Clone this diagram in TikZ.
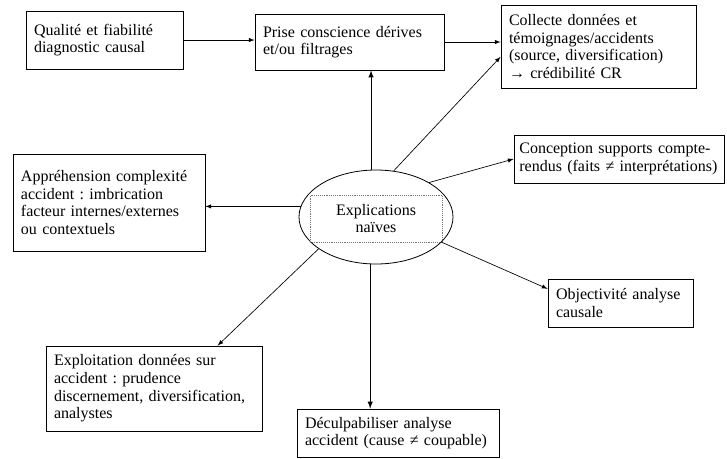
\documentclass[tikz,border=0pt]{standalone}
\usepackage{fontspec}
\setmainfont{Liberation Serif}
\frenchspacing
\usetikzlibrary{shapes}

\begin{document}
\begin{tikzpicture}[
    x=0.75pt, y=-0.75pt,
	box/.style={
	  rectangle,
	  draw=black,
	  line width=0.6pt,
	  align=left,
	  inner xsep=6pt,
	  font=\fontsize{12}{13.2}\selectfont
	},
	bulle/.style={
	  ellipse,
	  draw=black,
	  line width=0.6pt,
	  inner sep=0pt,
	  minimum width=115.5pt,
	  minimum height=70.5pt
	},
	cadre/.style={
	  rectangle,
	  draw=black!55,
	  densely dotted,
	  line width=0.4pt,
	  align=center,
	  minimum width=99pt,
	  minimum height=35.25pt,
	  font=\fontsize{12}{13.2}\selectfont
	},
	line/.style={draw, line width=0.5pt, ->, >=latex}
	]
	\useasboundingbox (0, 0) rectangle (727, 458);
	\node at (104.5, 40) [box, text width=105.75pt, minimum height=43.5pt] (qualite) {Qualité et fiabilité\\diagnostic causal};
	\node at (349.5, 42) [box, text width=129.75pt, minimum height=42pt] (prise) {Prise conscience dérives\\et/ou filtrages};
	\node at (598.5, 46.5) [box, text width=134.25pt, minimum height=62.25pt] (collecte) {Collecte données et\\témoignages/accidents\\(source, diversification)\\→ crédibilité CR};
	\node at (619, 159) [box, inner xsep=4pt, text width=149.5pt, minimum height=36pt] (conception) {Conception supports compte-\\rendus (faits ≠ interprétations)};
	\node at (109, 202.5) [box, text width=132pt, minimum height=72.75pt] (apprehension) {Appréhension complexité\\accident : imbrication\\facteur internes/externes\\ou contextuels};
	\node at (376, 217) [bulle] (naives) {};
	\node at (376, 218.5) [cadre] (explications) {Explications\\naïves};
	\node at (620.5, 303) [box, text width=96.75pt, minimum height=36pt] (objectivite) {Objectivité analyse\\causale};
	\node at (154, 388.5) [box, text width=150pt, minimum height=63.75pt] (exploitation) {Exploitation données sur\\accident : prudence\\discernement, diversification,\\analystes};
	\node at (398, 433) [box, text width=139.5pt, minimum height=36pt] (deculpabiliser) {Déculpabiliser analyse\\accident (cause ≠ coupable)};
	\path[line] (qualite.east) -- (qualite.east -| prise.west);
	\path[line] (prise.east) -- (prise.east -| collecte.west);
	\path[line, line width=0.8pt] (naives.96) -- (naives.96 |- prise.south);
	\path[line] (naives.69) -- (collecte.186);
	\path[line] (naives.33) -- (conception.west);
	\path[line] (naives.172) -- (naives.172 -| apprehension.east);
	\path[line] (naives.-21) -- (objectivite.169);
	\path[line] (naives.-151) -- (exploitation.34);
	\path[line, line width=0.8pt] (naives.-97) -- (naives.-97 |- deculpabiliser.north);
\end{tikzpicture}
\end{document}
